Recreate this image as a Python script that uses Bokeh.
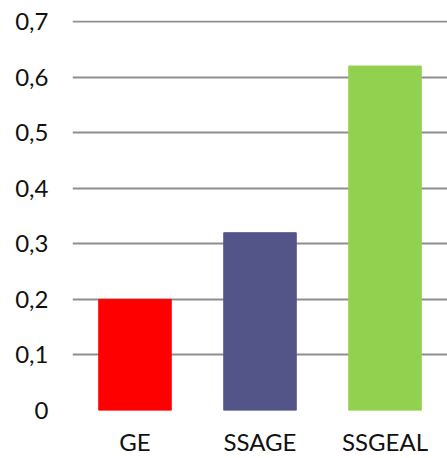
from bokeh.plotting import figure
from bokeh.models import ColumnDataSource, FixedTicker, CustomJSTickFormatter, FactorRange, Range1d
from bokeh.embed import file_html
from bokeh.resources import INLINE

categories = ["GE", "SSAGE", "SSGEAL"]
values = [0.20, 0.32, 0.62]
colors = ["#ff0000", "#535488", "#92d050"]
y_ticks = [0, 0.1, 0.2, 0.3, 0.4, 0.5, 0.6, 0.7]

FONT = "Lato"
FONT_SIZE = "24px"
TEXT_COLOR = "#111111"

source = ColumnDataSource(dict(cat=categories, val=values, color=colors))

p = figure(
    width=447, height=458,
    x_range=FactorRange(*categories, range_padding=0),
    y_range=Range1d(0, 0.702),
    output_backend="svg", toolbar_location=None,
    min_border_left=72, min_border_right=0,
    min_border_top=20, min_border_bottom=48,
)

p.vbar(x="cat", top="val", width=0.58, color="color", source=source)

p.outline_line_color = None
p.xgrid.grid_line_color = None
p.ygrid.grid_line_color = "#8e8e8e"
p.ygrid.grid_line_width = 2

# y axis labels use a comma as decimal separator
p.yaxis.ticker = FixedTicker(ticks=y_ticks)
p.yaxis.formatter = CustomJSTickFormatter(
    code='return tick == 0 ? "0" : tick.toFixed(1).replace(".", ",");'
)

for ax in (p.xaxis[0], p.yaxis[0]):
    ax.axis_line_color = None
    ax.major_tick_line_color = None
    ax.minor_tick_line_color = None
    ax.major_tick_out = 0
    ax.major_tick_in = 0
    ax.major_label_text_font = FONT
    ax.major_label_text_font_size = FONT_SIZE
    ax.major_label_text_color = TEXT_COLOR

p.yaxis.major_label_standoff = 24
p.xaxis.major_label_standoff = 16

open("out.html", "w").write(file_html(p, INLINE))
